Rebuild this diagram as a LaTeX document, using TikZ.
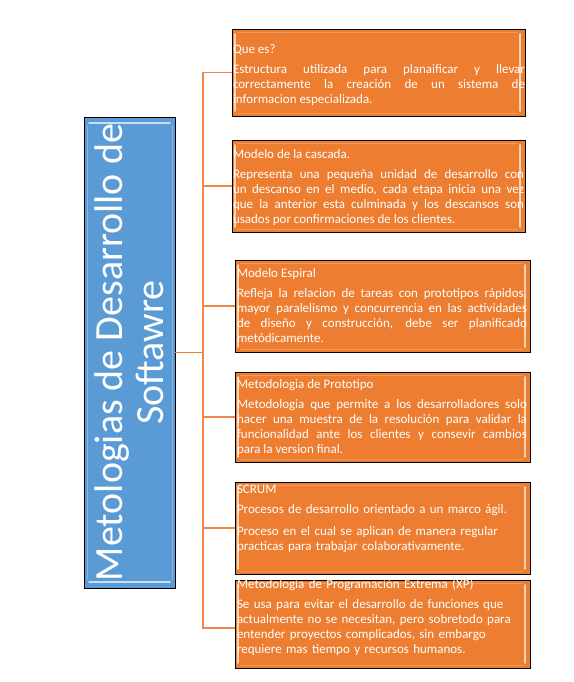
\documentclass[tikz,border=0pt]{standalone}
\usepackage{fontspec}
\setmainfont{Carlito}
\definecolor{orng}{HTML}{ED7D31}
\definecolor{lorng}{HTML}{FAD3B5}
\definecolor{blu}{HTML}{5B9BD5}
\definecolor{lblu}{HTML}{C9DEF2}
\definecolor{conn}{HTML}{EF8746}
\begin{document}
\begin{tikzpicture}[x=1pt,y=-1pt,
  obox/.style={rectangle, draw=black, line width=0.6pt, fill=orng, inner sep=0pt, outer sep=0pt,
    path picture={
      \draw[lorng, line width=1.6pt, line cap=round]
        ([xshift=3pt,yshift=-5pt]path picture bounding box.north west) -- ([xshift=3pt,yshift=5pt]path picture bounding box.south west);
      \draw[lorng, line width=1.6pt, line cap=round]
        ([xshift=-5pt,yshift=-5pt]path picture bounding box.north east) -- ([xshift=-5pt,yshift=5pt]path picture bounding box.south east);
      \draw[orng!70!lorng, line width=0.8pt]
        ([xshift=5pt,yshift=-3pt]path picture bounding box.north west) -- ([xshift=-7pt,yshift=-3pt]path picture bounding box.north east);
      \draw[orng!70!lorng, line width=0.8pt]
        ([xshift=5pt,yshift=3pt]path picture bounding box.south west) -- ([xshift=-7pt,yshift=3pt]path picture bounding box.south east);
    }},
  bbox/.style={rectangle, draw=black, line width=0.6pt, fill=blu, inner sep=0pt, outer sep=0pt,
    path picture={
      \draw[lblu, line width=1.8pt, line cap=round]
        ([xshift=5pt,yshift=-6pt]path picture bounding box.north west) -- ([xshift=-5pt,yshift=-6pt]path picture bounding box.north east);
      \draw[lblu, line width=1.8pt, line cap=round]
        ([xshift=5pt,yshift=6pt]path picture bounding box.south west) -- ([xshift=-5pt,yshift=6pt]path picture bounding box.south east);
      \draw[blu!60!lblu, line width=0.8pt]
        ([xshift=3pt,yshift=-8pt]path picture bounding box.north west) -- ([xshift=3pt,yshift=8pt]path picture bounding box.south west);
      \draw[blu!60!lblu, line width=0.8pt]
        ([xshift=-3pt,yshift=-8pt]path picture bounding box.north east) -- ([xshift=-3pt,yshift=8pt]path picture bounding box.south east);
    }},
  txt/.style={text=white, font=\fontsize{13}{15}\selectfont, anchor=base west, inner sep=0pt, outer sep=0pt,
    execute at begin node={\setlength{\parskip}{5pt}}},
  conline/.style={draw=conn, line width=1.1pt},
  mainline/.style={draw=orng, line width=1.8pt}
]
\useasboundingbox[fill=white] (0,0) rectangle (573,682);

% central box
\node[bbox, minimum width=91, minimum height=471] (main) at (129.5,352.5) {};
\node[text=white, font=\fontsize{40}{41}\selectfont, rotate=90, align=center, inner sep=0pt] (title) at (main.center) {Metologias de Desarrollo de\\Softawre};

% boxes
\node[obox, minimum width=293, minimum height=87] (b1) at (378.5,72.5) {};
\node[obox, minimum width=293, minimum height=92] (b2) at (378.5,186) {};
\node[obox, minimum width=295, minimum height=92] (b3) at (382.5,306) {};
\node[obox, minimum width=295, minimum height=90] (b4) at (382.5,417) {};
\node[obox, minimum width=295, minimum height=92] (b5) at (382.5,528) {};
\node[obox, minimum width=295, minimum height=88] (b6) at (382.5,624) {};

% connectors
\coordinate (j) at (203,352.5);
\draw[mainline] (main.east) -- (j);
\draw[conline] (j) |- (b1.west);
\draw[conline] (j) |- (b2.west);
\draw[conline] (j) |- (b3.west);
\draw[conline] (j) |- (b4.west);
\draw[conline] (j) |- (b5.west);
\draw[conline] (j) |- ([yshift=-4pt]b6.west);

% texts
\node[txt, text width=292, align=justify] (t1) at (233,54) {Que es?\par Estructura utilizada para planaificar y llevar\linebreak correctamente la creación de un sistema de\linebreak informacion especializada.};
\node[txt, text width=291, align=justify] (t2) at (233,158) {Modelo de la cascada.\par Representa una pequeña unidad de desarrollo con\linebreak un descanso en el medio, cada etapa inicia una vez\linebreak que la anterior esta culminada y los descansos son\linebreak usados por confirmaciones de los clientes.};
\node[txt, text width=290, align=justify] (t3) at (237,277) {Modelo Espiral\par Refleja la relacion de tareas con prototipos rápidos,\linebreak mayor paralelismo y concurrencia en las actividades\linebreak de diseño y construcción, debe ser planificado\linebreak metódicamente.};
\node[txt, text width=290, align=justify] (t4) at (237,388) {Metodologia de Prototipo\par Metodologia que permite a los desarrolladores solo\linebreak hacer una muestra de la resolución para validar la\linebreak funcionalidad ante los clientes y consevir cambios\linebreak para la version final.};
\node[txt, text width=290, align=left] (t5) at (237,493) {SCRUM\par Procesos de desarrollo orientado a un marco ágil.\par\vspace{2pt}Proceso en el cual se aplican de manera regular\\ practicas para trabajar colaborativamente.};
\node[txt, text width=290, align=left] (t6) at (237,588) {Metodologia de Programación Extrema (XP)\par Se usa para evitar el desarrollo de funciones que\\ actualmente no se necesitan, pero sobretodo para\\ entender proyectos complicados, sin embargo\\ requiere mas tiempo y recursos humanos.};
\end{tikzpicture}
\end{document}
